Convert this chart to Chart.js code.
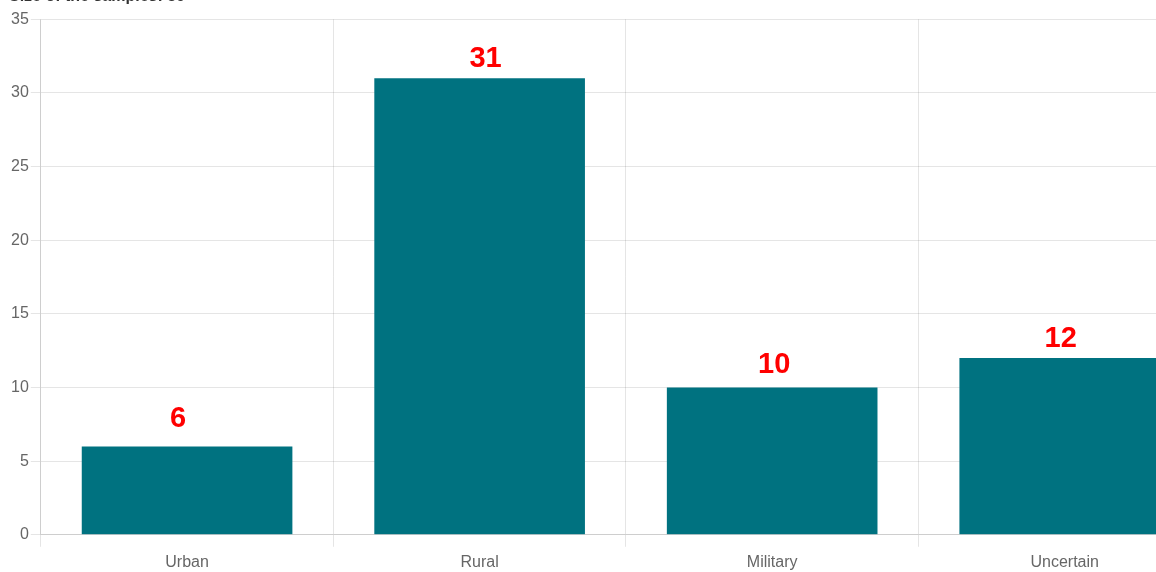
<!DOCTYPE html>
<html>
<head>
<meta charset="utf-8">
<script src="https://cdn.jsdelivr.net/npm/chart.js@4"></script>
<style>
    html, body { margin: 0; padding: 0; background: #fff; overflow: hidden; }
    #wrap { position: absolute; left: 0; top: -26px; width: 1211px; height: 604px; }
</style>
</head>
<body>
<div id="wrap"><canvas id="chart"></canvas></div>
<script>
const categories = ["Urban", "Rural", "Military", "Uncertain"];
const sampleCounts = [6, 31, 10, 12];
const yTicks = [0, 5, 10, 15, 20, 25, 30, 35];
const titleText = "Size of the samples: " + sampleCounts.reduce((a, b) => a + b, 0);

// draws the red number above each bar
// (small per-label nudges, the original labels are not perfectly centred)
const labelNudgeX = [-9, 6, 2, -4];
const labelNudgeY = [-8, 0, -3, 0];

const valueLabels = {
    id: "valueLabels",
    afterDatasetsDraw(chart) {
        const ctx = chart.ctx;
        const meta = chart.getDatasetMeta(0);
        ctx.save();
        ctx.fillStyle = "#ff0000";
        ctx.font = "bold 29px 'Liberation Sans', Arial, sans-serif";
        ctx.textAlign = "center";
        ctx.textBaseline = "bottom";
        meta.data.forEach((bar, i) => {
            ctx.fillText(String(sampleCounts[i]), bar.x + labelNudgeX[i], bar.y - 5 + labelNudgeY[i]);
        });
        ctx.restore();
    }
};

const context = document.getElementById("chart");

new Chart(context, {
    type: "bar",
    data: {
        labels: categories,
        datasets: [{
            data: sampleCounts,
            backgroundColor: "#007280",
            borderWidth: 0
        }]
    },
    options: {
        responsive: true,
        maintainAspectRatio: false,
        animation: false,
        layout: { padding: { left: 9, right: 0, top: 0, bottom: 0 } },
        plugins: {
            legend: { display: false },
            tooltip: { enabled: false },
            title: {
                display: true,
                text: titleText,
                align: "start",
                color: "#333",
                font: { family: "'Liberation Sans', Arial, sans-serif", size: 16, weight: "bold" },
                padding: { top: 13, bottom: 13 }
            }
        },
        scales: {
            x: {
                grid: { color: "rgba(0,0,0,0.1)", tickLength: 12 },
                ticks: {
                    color: "#666",
                    padding: 6,
                    font: { family: "'Liberation Sans', Arial, sans-serif", size: 16 }
                }
            },
            y: {
                min: 0,
                max: 35,
                afterBuildTicks(axis) {
                    axis.ticks = yTicks.map(v => ({ value: v }));
                },
                grid: { color: "rgba(0,0,0,0.1)", tickLength: 10 },
                ticks: {
                    color: "#666",
                    padding: 2,
                    font: { family: "'Liberation Sans', Arial, sans-serif", size: 16 }
                }
            }
        }
    },
    plugins: [valueLabels]
});
</script>
</body>
</html>
